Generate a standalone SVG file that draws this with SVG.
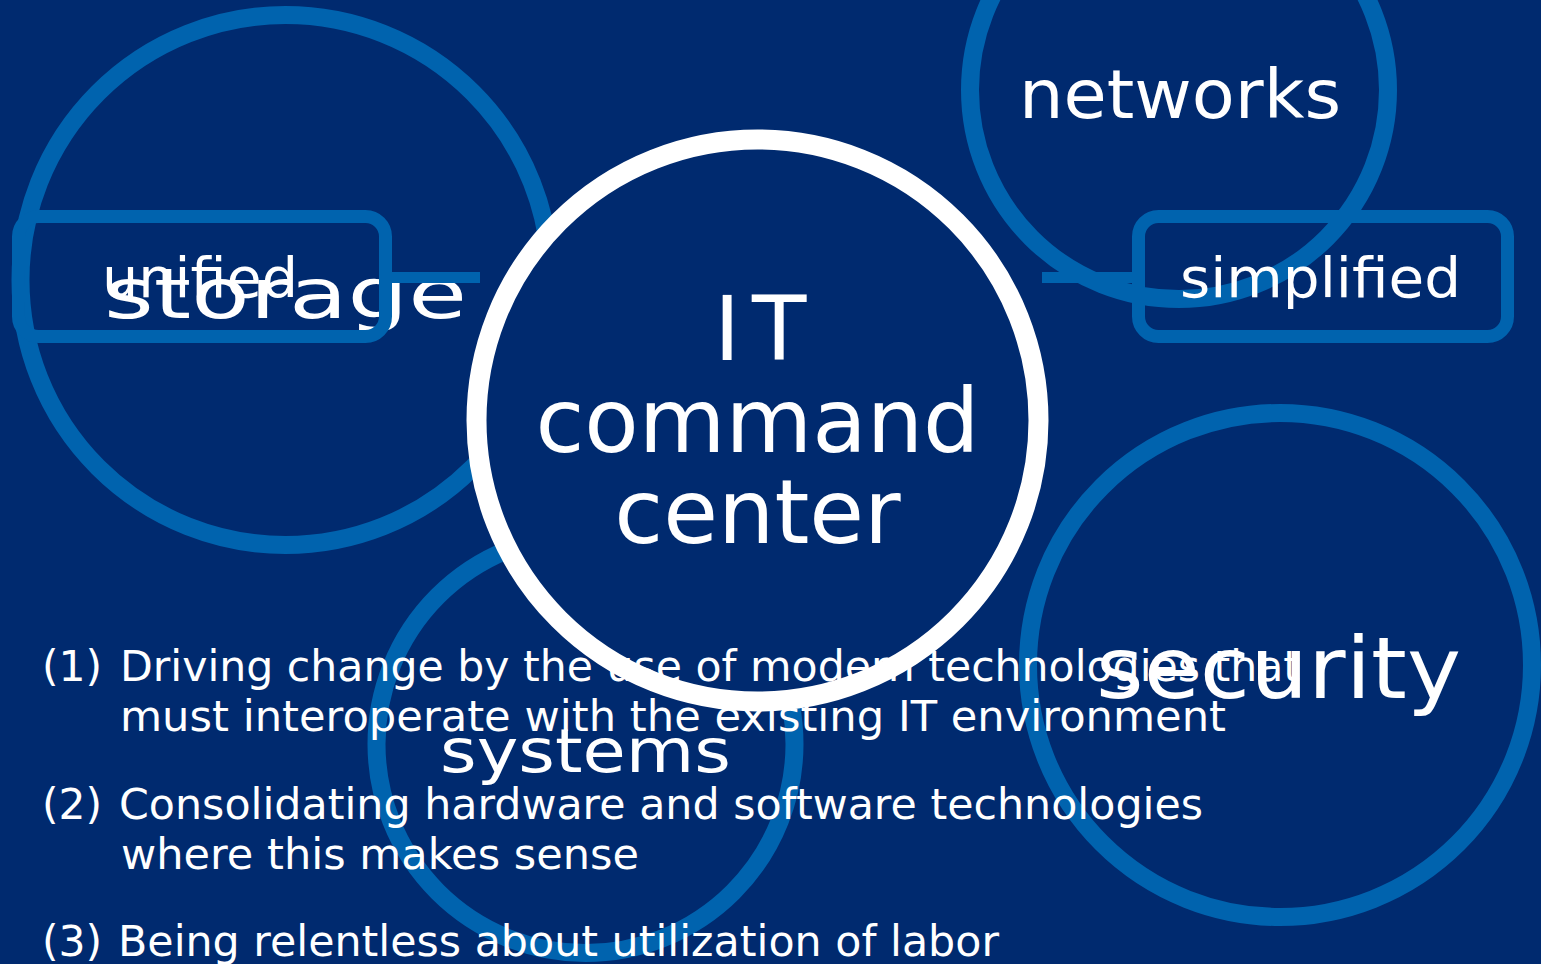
<svg xmlns="http://www.w3.org/2000/svg" width="1541" height="964" viewBox="0 0 1541 964">
  <style>
    .ring { fill: none; stroke: #0063AE; stroke-width: 18; }
    .box { fill: none; stroke: #0063AE; stroke-width: 13; }
    .link { stroke: #0063AE; stroke-width: 11; fill: none; }
    .t { font-family: "DejaVu Sans", "Noto Sans", sans-serif; fill: #FFFFFF; }
    .note { font-size: 42.5px; }
  </style>
  <rect x="0" y="0" width="1541" height="964" fill="#002A6F"/>

  <g id="storage">
    <circle class="ring" cx="285.5" cy="280" r="265"/>
    <text class="t" x="104" y="318" font-size="70" textLength="363" lengthAdjust="spacingAndGlyphs">storage</text>
  </g>
  <g id="networks">
    <circle class="ring" cx="1179" cy="90" r="209"/>
    <text class="t" x="1019" y="118" font-size="68" textLength="322" lengthAdjust="spacingAndGlyphs">networks</text>
  </g>
  <g id="security">
    <circle class="ring" cx="1280" cy="665" r="252"/>
    <text class="t" x="1096" y="698" font-size="86" textLength="365" lengthAdjust="spacingAndGlyphs">security</text>
  </g>
  <g id="systems">
    <circle class="ring" cx="585.5" cy="744" r="209"/>
    <text class="t" x="440" y="772" font-size="61" textLength="291" lengthAdjust="spacingAndGlyphs">systems</text>
  </g>

  <g id="it-command-center">
    <circle cx="757.5" cy="420.5" r="281" fill="#002A6F"/>
    <text class="t" y="360" font-size="89"><tspan x="714">I</tspan><tspan x="752">T</tspan></text>
    <text class="t" x="757.5" y="452" font-size="89" text-anchor="middle">command</text>
    <text class="t" x="757.5" y="543" font-size="89" text-anchor="middle">center</text>
  </g>

  <g id="connectors">
    <line class="link" x1="392" y1="277.5" x2="480" y2="277.5"/>
    <line class="link" x1="1042" y1="277.5" x2="1132" y2="277.5"/>
  </g>

  <g id="unified">
    <rect class="box" x="18.5" y="216.5" width="367" height="120" rx="20"/>
    <text class="t" x="102" y="297" font-size="56" textLength="196" lengthAdjust="spacingAndGlyphs">unified</text>
  </g>
  <g id="simplified">
    <rect class="box" x="1138.5" y="216.5" width="369" height="120" rx="20"/>
    <text class="t" x="1180" y="297" font-size="56" textLength="281" lengthAdjust="spacingAndGlyphs">simplified</text>
  </g>

  <g id="notes" class="t note">
    <text y="681"><tspan x="42">(1)</tspan><tspan x="120" textLength="1180" lengthAdjust="spacingAndGlyphs">Driving change by the use of modern technologies that</tspan></text>
    <text x="120" y="731" textLength="1106" lengthAdjust="spacingAndGlyphs">must interoperate with the existing IT environment</text>
    <text y="819"><tspan x="42">(2)</tspan><tspan x="119" textLength="1084" lengthAdjust="spacingAndGlyphs">Consolidating hardware and software technologies</tspan></text>
    <text x="121" y="869" textLength="518" lengthAdjust="spacingAndGlyphs">where this makes sense</text>
    <text y="956"><tspan x="42">(3)</tspan><tspan x="118" textLength="881" lengthAdjust="spacingAndGlyphs">Being relentless about utilization of labor</tspan></text>
  </g>

  <g id="it-command-center-ring">
    <circle cx="757.5" cy="420.5" r="281" fill="none" stroke="#FFFFFF" stroke-width="20"/>
  </g>
</svg>
